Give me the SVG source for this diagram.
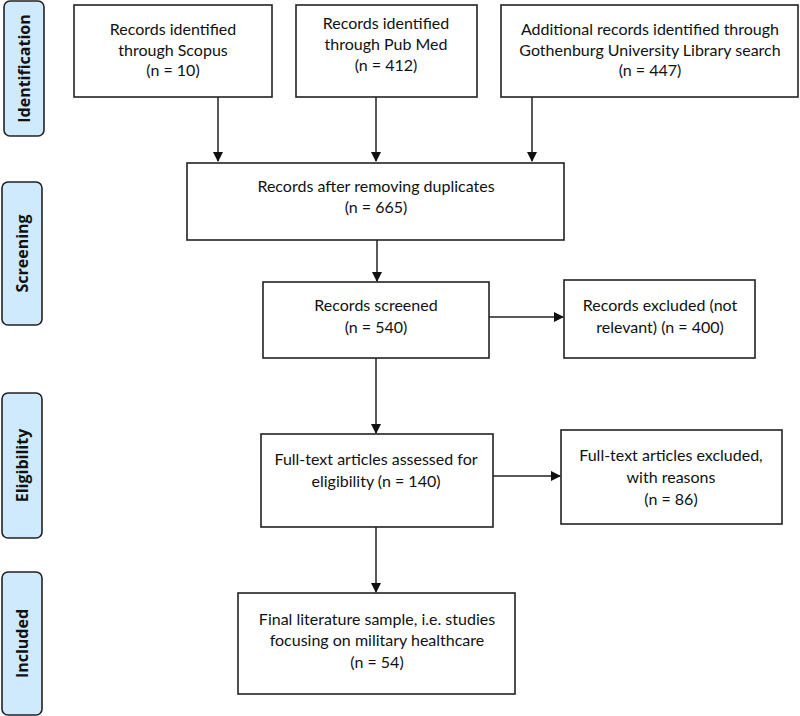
<svg xmlns="http://www.w3.org/2000/svg" width="800" height="716" viewBox="0 0 800 716">
<style>
.box{fill:#fff;stroke:#222;stroke-width:1.6}
.lab{fill:#cfeafc;stroke:#222;stroke-width:1.6}
.t{font-family:Lato,"Liberation Sans",sans-serif;font-size:16px;fill:#111;text-anchor:middle}
.s{font-family:"Open Sans","Liberation Sans",sans-serif;font-size:16px;font-weight:bold;fill:#111;text-anchor:middle}
.c{stroke:#222;stroke-width:1.5;fill:none}
</style>
<defs>
<marker id="ah" markerWidth="10" markerHeight="10" refX="9" refY="5" orient="auto" markerUnits="userSpaceOnUse">
<path d="M0,0 L10,5 L0,10 Z" fill="#111"/>
</marker>
</defs>
<g id="lab-identification"><rect class="lab" x="4" y="1" width="40" height="135" rx="6"/><text class="s" transform="translate(30,68.5) rotate(-90)">Identification</text></g>
<g id="lab-screening"><rect class="lab" x="2" y="182" width="40" height="143" rx="6"/><text class="s" transform="translate(28,253.5) rotate(-90)">Screening</text></g>
<g id="lab-eligibility"><rect class="lab" x="2" y="393" width="40" height="145" rx="6"/><text class="s" transform="translate(28,465.5) rotate(-90)">Eligibility</text></g>
<g id="lab-included"><rect class="lab" x="2" y="572" width="40" height="143" rx="6"/><text class="s" transform="translate(28,643.5) rotate(-90)">Included</text></g>

<g id="scopus"><rect class="box" x="74" y="5" width="198" height="92"/>
<text class="t" x="173" y="35">Records identified</text><text class="t" x="173" y="56">through Scopus</text><text class="t" x="173" y="76">(n = 10)</text></g>
<g id="pubmed"><rect class="box" x="296" y="5" width="181" height="92"/>
<text class="t" x="386" y="29">Records identified</text><text class="t" x="386" y="50">through Pub Med</text><text class="t" x="386" y="71">(n = 412)</text></g>
<g id="gothenburg"><rect class="box" x="501" y="5" width="297" height="92"/>
<text class="t" x="650" y="35">Additional records identified through</text><text class="t" x="650" y="56">Gothenburg University Library search</text><text class="t" x="650" y="76">(n = 447)</text></g>
<g id="dedup"><rect class="box" x="187" y="163" width="377" height="77"/>
<text class="t" x="376" y="192">Records after removing duplicates</text><text class="t" x="376" y="213">(n = 665)</text></g>
<g id="screened"><rect class="box" x="263" y="282" width="226" height="76"/>
<text class="t" x="376" y="311">Records screened</text><text class="t" x="376" y="333">(n = 540)</text></g>
<g id="excluded"><rect class="box" x="564" y="280" width="191" height="78"/>
<text class="t" x="660" y="311">Records excluded (not</text><text class="t" x="660" y="333">relevant) (n = 400)</text></g>
<g id="fulltext"><rect class="box" x="261" y="434" width="232" height="93"/>
<text class="t" x="376" y="465">Full-text articles assessed for</text><text class="t" x="376" y="487">eligibility (n = 140)</text></g>
<g id="ft-excluded"><rect class="box" x="561" y="430" width="221" height="94"/>
<text class="t" x="671" y="461">Full-text articles excluded,</text><text class="t" x="671" y="483">with reasons</text><text class="t" x="671" y="505">(n = 86)</text></g>
<g id="final"><rect class="box" x="238" y="593" width="277" height="101"/>
<text class="t" x="377" y="625">Final literature sample, i.e. studies</text><text class="t" x="377" y="646">focusing on military healthcare</text><text class="t" x="377" y="668">(n = 54)</text></g>

<g id="connectors">
<line class="c" x1="218" y1="97" x2="218" y2="161" marker-end="url(#ah)"/>
<line class="c" x1="376" y1="97" x2="376" y2="161" marker-end="url(#ah)"/>
<line class="c" x1="532" y1="97" x2="532" y2="161" marker-end="url(#ah)"/>
<line class="c" x1="377" y1="240" x2="377" y2="281" marker-end="url(#ah)"/>
<line class="c" x1="489" y1="317" x2="563" y2="317" marker-end="url(#ah)"/>
<line class="c" x1="376" y1="358" x2="376" y2="433" marker-end="url(#ah)"/>
<line class="c" x1="493" y1="476" x2="560" y2="476" marker-end="url(#ah)"/>
<line class="c" x1="376" y1="527" x2="376" y2="592" marker-end="url(#ah)"/>
</g>
</svg>
